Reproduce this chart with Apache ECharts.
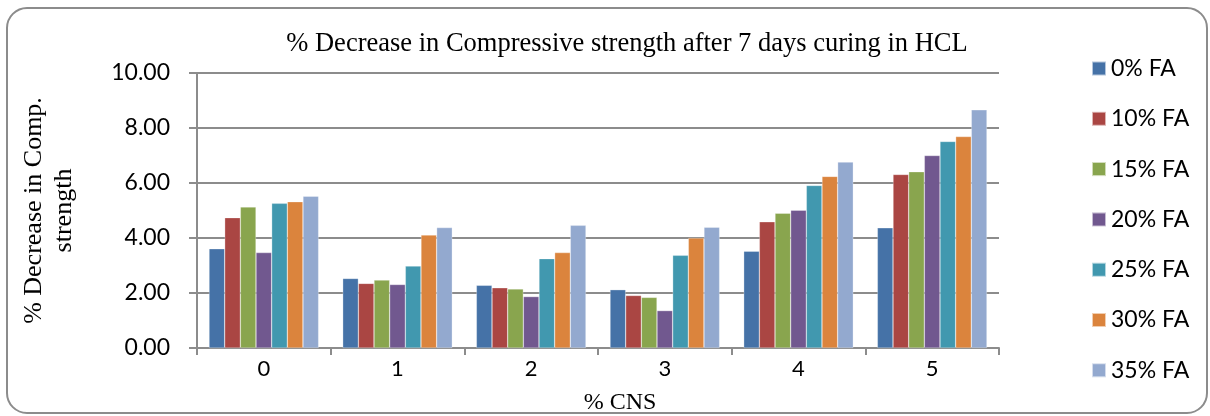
<!DOCTYPE html>
<html>
<head>
<meta charset="utf-8">
<script src="https://cdn.jsdelivr.net/npm/echarts@6/dist/echarts.min.js"></script>
<style>
  html, body { margin: 0; padding: 0; background: #fff; }
  #chart { width: 1210px; height: 416px; }
</style>
</head>
<body>
<div id="chart"></div>
<script>
// % CNS categories
const categories = ['0', '1', '2', '3', '4', '5'];
const seriesNames = ['0% FA', '10% FA', '15% FA', '20% FA', '25% FA', '30% FA', '35% FA'];
// values, one array per FA level
const fa0  = [3.61, 2.53, 2.28, 2.12, 3.52, 4.37];
const fa10 = [4.74, 2.35, 2.19, 1.91, 4.59, 6.31];
const fa15 = [5.13, 2.47, 2.15, 1.84, 4.90, 6.41];
const fa20 = [3.47, 2.31, 1.87, 1.36, 5.01, 7.00];
const fa25 = [5.26, 2.98, 3.25, 3.37, 5.91, 7.51];
const fa30 = [5.32, 4.11, 3.47, 4.00, 6.24, 7.69];
const fa35 = [5.52, 4.38, 4.46, 4.39, 6.76, 8.66];
const yTicks = [0, 2, 4, 6, 8, 10];

const colors = ['#4572A7', '#AA4643', '#89A54E', '#71588F', '#4198AF', '#DB843D', '#93A9CF'];
const allData = [fa0, fa10, fa15, fa20, fa25, fa30, fa35];

const chart = echarts.init(document.getElementById('chart'));

const option = {
    animation: false,
    color: colors,
    textStyle: { fontFamily: 'Lato' },
    title: {
        text: '% Decrease in Compressive strength after 7 days curing in HCL',
        left: 622,
        textAlign: 'center',
        top: 26,
        textStyle: {
            fontFamily: 'Liberation Serif',
            fontWeight: 'normal',
            fontSize: 26.5,
            color: '#000'
        }
    },
    graphic: [{
        type: 'rect',
        shape: { x: 7, y: 8, width: 1200, height: 405, r: 20 },
        style: { fill: 'none', stroke: '#8c8c8c', lineWidth: 2 },
        silent: true
    }],
    legend: {
        orient: 'vertical',
        left: 1086,
        top: 52,
        itemWidth: 14,
        itemHeight: 14,
        itemGap: 27.3,
        icon: 'rect',
        data: seriesNames,
        textStyle: { fontFamily: 'Lato', fontSize: 23, color: '#000', lineHeight: 20, padding: [0, 0, 0, 0] }
    },
    grid: {
        left: 197,
        right: 211,
        top: 73,
        bottom: 68,
        containLabel: false,
        outerBoundsMode: 'none'
    },
    xAxis: {
        type: 'category',
        data: categories,
        name: '% CNS',
        nameLocation: 'middle',
        nameGap: 43,
        nameTextStyle: { fontFamily: 'Liberation Serif', fontSize: 24, color: '#000', padding: [0, 0, 0, 44] },
        axisLine: { lineStyle: { color: '#8c8c8c', width: 2 } },
        axisTick: { show: true, length: 7, lineStyle: { color: '#8c8c8c', width: 2 } },
        axisLabel: { fontFamily: 'Lato', fontSize: 22, color: '#000', margin: 10 }
    },
    yAxis: {
        type: 'value',
        min: 0,
        max: 10,
        interval: 2,
        name: '% Decrease in Comp.\nstrength',
        nameLocation: 'middle',
        nameGap: 118,
        nameTextStyle: { fontFamily: 'Liberation Serif', fontSize: 26, color: '#000', lineHeight: 30 },
        axisLine: { show: true, lineStyle: { color: '#8c8c8c', width: 2 } },
        axisTick: { show: true, length: 8, lineStyle: { color: '#8c8c8c', width: 2 } },
        splitLine: { lineStyle: { color: '#8c8c8c', width: 2 } },
        axisLabel: {
            fontFamily: 'Lato',
            fontSize: 23,
            color: '#000',
            margin: 27,
            formatter: v => yTicks.includes(v) ? v.toFixed(2) : ''
        }
    },
    series: seriesNames.map((name, i) => ({
        name: name,
        type: 'bar',
        data: allData[i],
        barGap: '0%',
        barCategoryGap: '18%',
        itemStyle: { borderColor: 'rgba(255,255,255,0.6)', borderWidth: 0.5 }
    }))
};

chart.setOption(option);
</script>
</body>
</html>
